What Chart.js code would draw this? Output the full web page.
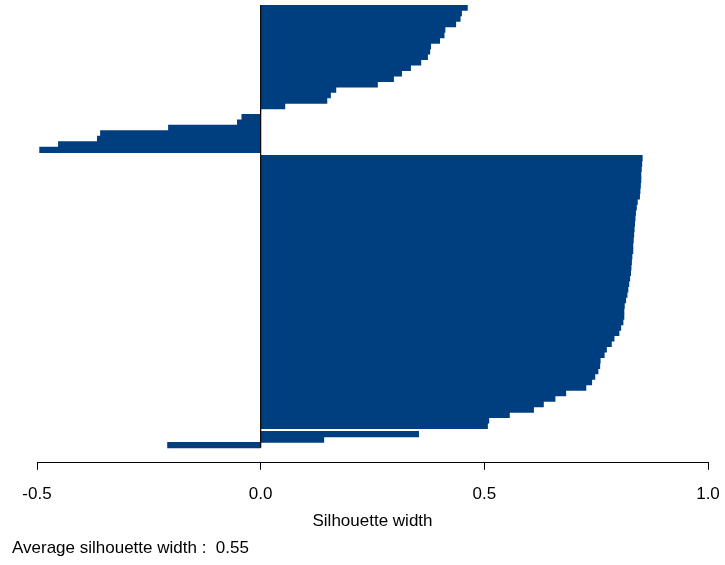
<!DOCTYPE html>
<html>
<head>
<meta charset="utf-8">
<script src="https://cdn.jsdelivr.net/npm/chart.js@4.4.1/dist/chart.umd.min.js"></script>
<style>
    html, body { margin: 0; padding: 0; background: #fff; }
    #wrap { width: 725px; height: 565px; position: relative; }
</style>
</head>
<body>
<div id="wrap"><canvas id="chart-1"></canvas></div>
<script>
// silhouette widths per cluster, sorted like the original plot (top to bottom)
const clusterOne = [0.462, 0.449, 0.446, 0.436, 0.412, 0.410, 0.400, 0.380, 0.378, 0.373,
    0.358, 0.335, 0.315, 0.297, 0.261, 0.168, 0.156, 0.148, 0.054, 0.000,
    -0.042, -0.052, -0.206, -0.358, -0.365, -0.452, -0.494]
const clusterTwo = [0.853, 0.852, 0.851, 0.850, 0.850, 0.849, 0.848, 0.847, 0.842, 0.840,
    0.838, 0.837, 0.836, 0.835, 0.834, 0.833, 0.832, 0.832, 0.830, 0.829,
    0.828, 0.827, 0.825, 0.823, 0.821, 0.819, 0.816, 0.813, 0.812, 0.812,
    0.810, 0.805, 0.801, 0.790, 0.784, 0.773, 0.768, 0.759, 0.758, 0.754,
    0.747, 0.740, 0.727, 0.682, 0.658, 0.632, 0.610, 0.556, 0.510, 0.507]
const clusterThree = [0.353, 0.141, -0.208]

const xTicks = [-0.5, 0.0, 0.5, 1.0]
const averageWidth = 0.55

const clusters = [clusterOne, clusterTwo, clusterThree]
const clusterGap = 0.5 // same as R's space between clusters

// one bar per observation, stacked down the y axis
const points = []
let pos = 0
clusters.forEach((vals, ci) => {
    if (ci > 0) pos += clusterGap
    vals.forEach(v => {
        points.push({ x: v, y: pos + 0.5 })
        pos += 1
    })
})
const total = pos

const barColor = '#003F7F'
const fontFamily = '"Liberation Sans", Arial, sans-serif'

Chart.defaults.font.family = fontFamily
Chart.defaults.color = '#000'

const elChart1 = document.querySelector('#chart-1')

const chart1 = new Chart(elChart1, {
    type: 'bar',
    data: {
        datasets: [{
            type: 'line',
            label: 'zero',
            data: [{ x: 0, y: 0 }, { x: 0, y: total }],
            borderColor: '#000',
            borderWidth: 1.2,
            pointRadius: 0,
            order: 0
        }, {
            label: 'Silhouette width',
            data: points,
            backgroundColor: barColor,
            borderColor: barColor,
            borderWidth: 0,
            inflateAmount: 0.4, // hides hairline seams between bars
            barPercentage: 1.0,
            categoryPercentage: 1.0,
            order: 1
        }]
    },
    options: {
        indexAxis: 'y',
        responsive: true,
        maintainAspectRatio: false,
        animation: false,
        layout: {
            padding: { left: 12, right: 17, top: 5, bottom: 6 }
        },
        plugins: {
            legend: { display: false },
            tooltip: { enabled: false },
            title: {
                display: true,
                position: 'bottom',
                align: 'start',
                text: 'Average silhouette width :  ' + averageWidth.toFixed(2),
                color: '#000',
                font: { size: 17, weight: 'normal', family: fontFamily },
                padding: { top: 7, bottom: 0 }
            }
        },
        scales: {
            x: {
                type: 'linear',
                min: -0.5,
                max: 1.0,
                offset: false,
                afterBuildTicks: (axis) => {
                    axis.ticks = xTicks.map(v => ({ value: v }))
                },
                afterFit: (axis) => {
                    // labels may hang past the ends, like R does
                    axis.paddingLeft = 0
                    axis.paddingRight = 0
                },
                grid: {
                    drawOnChartArea: false,
                    drawTicks: true,
                    tickLength: 7,
                    color: '#000'
                },
                border: { display: true, color: '#000', width: 1 },
                ticks: {
                    color: '#000',
                    font: { size: 17 },
                    padding: 14,
                    maxRotation: 0,
                    callback: (val) => Number(val).toFixed(1)
                },
                title: {
                    display: true,
                    text: 'Silhouette width',
                    color: '#000',
                    font: { size: 17 },
                    padding: { top: -7, bottom: 0 }
                }
            },
            y: {
                type: 'linear',
                reverse: true,
                offset: false,
                min: 0,
                max: total + 2.75, // leave room above the axis like the original
                grid: { display: false },
                border: { display: false },
                ticks: { display: false },
                afterFit: (scale) => { scale.width = 25 }
            }
        }
    }
})
</script>
</body>
</html>
